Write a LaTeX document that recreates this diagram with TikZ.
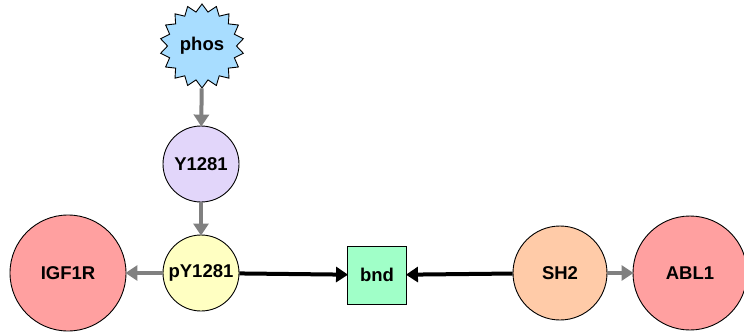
\documentclass[tikz,border=0pt]{standalone}
\usepackage{fontspec}
\setmainfont{Liberation Sans}
\usetikzlibrary{shapes.geometric,arrows.meta}
\definecolor{phosfill}{HTML}{A8DDFF}
\definecolor{siteFill}{HTML}{E2D6FA}
\definecolor{psiteFill}{HTML}{FFFFC2}
\definecolor{protFill}{HTML}{FFA0A0}
\definecolor{bndFill}{HTML}{A0FFC8}
\definecolor{domFill}{HTML}{FFCBA8}
\definecolor{edgeGray}{HTML}{808080}
\tikzset{
  x=1pt, y=-1pt,
  lbl/.style={font=\fontsize{18.5}{18.5}\selectfont\bfseries, text=black, inner sep=0pt},
  ent/.style={lbl, draw=black, line width=0.9pt, circle},
  graylink/.style={draw=edgeGray, line width=4pt, -{Triangle[length=12pt, width=15pt]}, shorten >=-1pt},
  blacklink/.style={draw=black, line width=4pt, -{Triangle[length=12pt, width=15pt]}, shorten >=-1pt},
}
\begin{document}
\begin{tikzpicture}
\useasboundingbox (0,0) rectangle (744,332);
% modification and sites
\node[lbl, star, star points=18, star point ratio=1.22, draw=black, line width=0.9pt,
      fill=phosfill, minimum size=84pt] (phos) at (202,46) {phos};
\node[ent, fill=siteFill, minimum size=76pt] (y1281) at (201,164) {Y1281};
\node[ent, fill=psiteFill, minimum size=76pt] (py1281) at (201,273) {pY1281};
% proteins, domain and binding
\node[ent, fill=protFill, minimum size=116pt] (igf1r) at (68,273) {IGF1R};
\node[lbl, draw=black, line width=0.9pt, fill=bndFill, minimum width=59pt, minimum height=58pt] (bnd) at (377,275) {bnd};
\node[ent, fill=domFill, minimum size=94pt] (sh2) at (560,273) {SH2};
\node[ent, fill=protFill, minimum size=114pt] (abl1) at (690,273) {ABL1};
% connectors
\draw[graylink] (phos) -- (y1281);
\draw[graylink] (y1281) -- (py1281);
\draw[graylink] (py1281) -- (igf1r);
\draw[graylink] (sh2) -- (abl1);
\draw[blacklink] (py1281) -- (bnd);
\draw[blacklink] (sh2) -- (bnd);
\end{tikzpicture}
\end{document}
